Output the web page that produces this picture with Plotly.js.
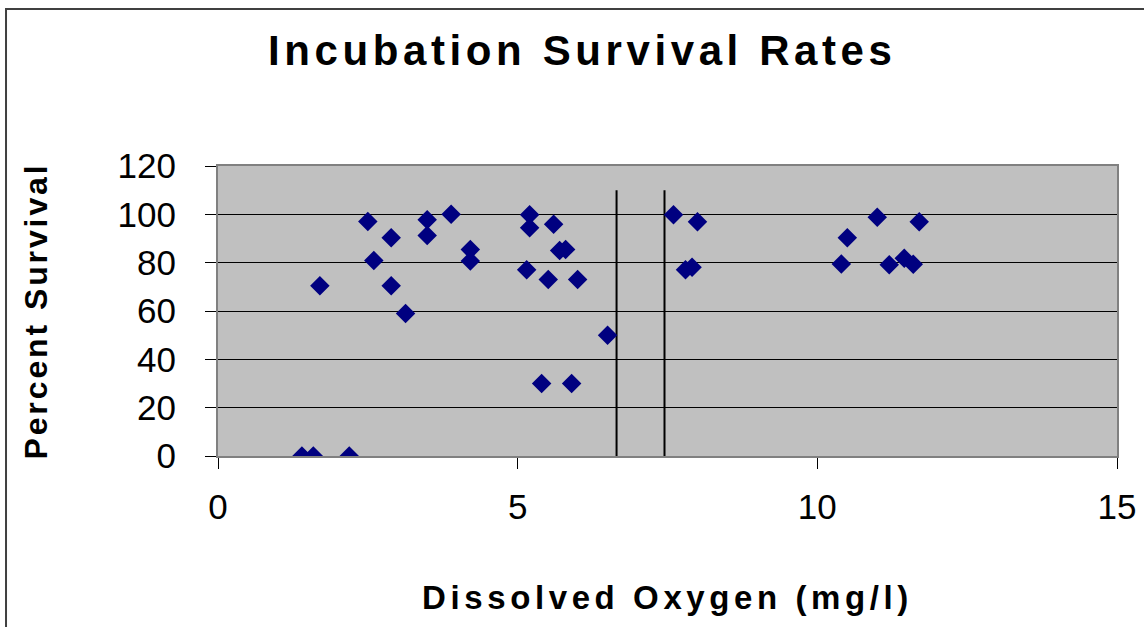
<!DOCTYPE html>
<html>
<head>
<meta charset="utf-8">
<script src="https://cdn.plot.ly/plotly-3.0.1.min.js"></script>
<style>
  html, body { margin: 0; padding: 0; background: #ffffff; overflow: hidden; }
  #chart { width: 1144px; height: 627px; }
  .gtitle { letter-spacing: 4.6px; }
  .xtitle { letter-spacing: 4.6px; }
  .ytitle { letter-spacing: 2.9px; }
</style>
</head>
<body>
<div id="chart"></div>
<script>
// Dissolved oxygen (mg/l) for each incubation
const dissolvedOxygen = [
  1.40, 1.59, 2.19, 1.70, 2.50, 2.89, 2.60, 2.89, 3.13, 3.49, 3.49, 3.89, 4.21, 4.21,
  5.20, 5.20, 5.60, 5.70, 5.80, 5.15, 5.51, 6.00, 6.50, 5.40, 5.90,
  7.60, 8.00, 7.80, 7.91,
  10.50, 10.40, 11.00, 11.70, 11.20, 11.45, 11.60
];
// Percent survival for each incubation
const percentSurvival = [
  0, 0, 0, 70.5, 97, 90.3, 80.9, 70.5, 59, 97.8, 91.2, 100, 85.4, 80.7,
  99.8, 94.4, 95.9, 85, 85.5, 77.1, 73, 73, 50, 30, 30,
  99.8, 96.9, 77.1, 78.1,
  90.3, 79.5, 98.8, 96.9, 79.1, 81.8, 79.3
];
// Vertical reference lines (dissolved oxygen thresholds)
const thresholdX = [6.65, 7.45];
const thresholdTop = 110;

const xTickVals = [0, 5, 10, 15];
const yTickVals = [0, 20, 40, 60, 80, 100, 120];

const traces = [];
thresholdX.forEach(function (xv) {
  traces.push({
    type: 'scatter', mode: 'lines',
    x: [xv, xv], y: [0, thresholdTop],
    line: { color: '#000000', width: 2 },
    hoverinfo: 'skip', showlegend: false
  });
});
traces.push({
  type: 'scatter', mode: 'markers',
  x: dissolvedOxygen, y: percentSurvival,
  marker: { symbol: 'diamond', size: 15, color: '#000080', line: { width: 0 } },
  showlegend: false
});

const FONT = 'Liberation Sans, Arial, sans-serif';

const layout = {
  width: 1144, height: 627,
  margin: { l: 218, r: 27, t: 166, b: 171, pad: 0 },
  paper_bgcolor: '#ffffff',
  plot_bgcolor: '#c0c0c0',
  font: { family: FONT, color: '#000000' },
  showlegend: false,
  title: {
    text: 'Incubation Survival Rates',
    font: { family: FONT, size: 42, weight: 'bold', color: '#000000' },
    xref: 'container', x: 0.509, xanchor: 'center',
    yref: 'container', y: 0.92, yanchor: 'middle'
  },
  xaxis: {
    range: [0, 15], tickvals: xTickVals, ticktext: xTickVals.map(String),
    showgrid: false, zeroline: false,
    showline: true, linecolor: '#808080', linewidth: 2, mirror: true,
    ticks: 'outside', ticklen: 11, tickcolor: '#000000', tickwidth: 1,
    ticklabelstandoff: 8,
    tickfont: { size: 35, family: FONT },
    layer: 'below traces',
    title: {
      text: 'Dissolved Oxygen (mg/l)',
      font: { size: 33, weight: 'bold', family: FONT },
      standoff: 61
    }
  },
  yaxis: {
    range: [0, 120], tickvals: yTickVals, ticktext: yTickVals.map(String),
    showgrid: true, gridcolor: '#000000', gridwidth: 1, zeroline: false,
    showline: true, linecolor: '#808080', linewidth: 2, mirror: true,
    ticks: 'outside', ticklen: 11, tickcolor: '#000000', tickwidth: 1,
    ticklabelstandoff: 22,
    tickfont: { size: 35, family: FONT },
    layer: 'below traces',
    title: {
      text: 'Percent Survival',
      font: { size: 32, weight: 'bold', family: FONT },
      standoff: 60
    }
  },
  shapes: [
    {
      type: 'rect', xref: 'paper', yref: 'paper',
      x0: -0.2358, x1: 1.3, y0: -1.0, y1: 1.541,
      line: { color: '#404040', width: 2 }, fillcolor: 'rgba(0,0,0,0)', layer: 'above'
    }
  ]
};

Plotly.newPlot('chart', traces, layout, { displayModeBar: false, staticPlot: true });
</script>
</body>
</html>
